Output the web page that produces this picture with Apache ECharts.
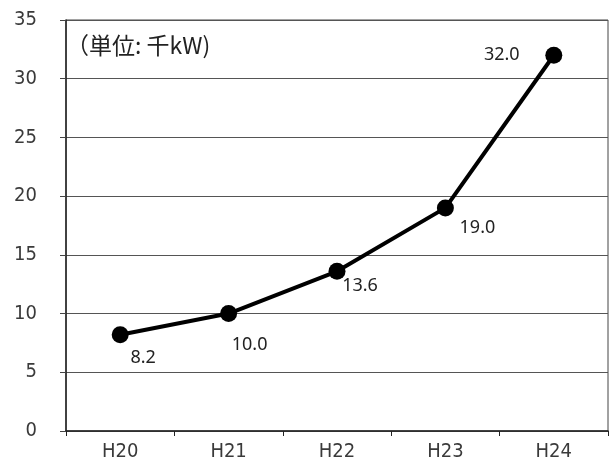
<!DOCTYPE html>
<html>
<head>
<meta charset="utf-8">
<script src="https://cdn.jsdelivr.net/npm/echarts@6/dist/echarts.min.js"></script>
<style>
  html, body { margin: 0; padding: 0; background: #fff; }
  #chart { width: 612px; height: 462px; }
</style>
</head>
<body>
<div id="chart"></div>
<script>
// Fiscal years and installed capacity (thousand kW)
const years = ['H20', 'H21', 'H22', 'H23', 'H24'];
const capacity = [8.2, 10.0, 13.6, 19.0, 32.0];
const yTicks = { min: 0, max: 35, step: 5 };
const unitNote = '（単位: 千kW)';

// Where each value label sits relative to its point (px)
const labelOffsets = [[23, 23], [21, 31], [23, 15], [32, 20], [-52, 0]];

const axisFont = '"DejaVu Sans Condensed", "DejaVu Sans", sans-serif';
const valueFont = '"Noto Sans", "DejaVu Sans", sans-serif';
const noteFont = '"Noto Sans CJK JP", sans-serif';

const chart = echarts.init(document.getElementById('chart'), null, { renderer: 'canvas' });

chart.setOption({
  animation: false,
  backgroundColor: '#ffffff',
  grid: {
    left: 66, right: 4, top: 20, bottom: 31,
    show: true, borderColor: '#444', borderWidth: 1
  },
  xAxis: {
    type: 'category',
    data: years,
    boundaryGap: true,
    axisLine: { show: true, lineStyle: { color: '#222', width: 1.5 } },
    axisTick: { show: true, length: 5, lineStyle: { color: '#222' } },
    axisLabel: { color: '#3a3a3a', fontSize: 20, fontFamily: axisFont, margin: 11 },
    splitLine: { show: false }
  },
  yAxis: {
    type: 'value',
    min: yTicks.min, max: yTicks.max, interval: yTicks.step,
    axisLine: { show: true, lineStyle: { color: '#222', width: 1.5 } },
    axisTick: { show: true, length: 6, lineStyle: { color: '#444' } },
    axisLabel: { color: '#3a3a3a', fontSize: 20, fontFamily: axisFont, margin: 29 },
    splitLine: { show: true, lineStyle: { color: '#555', width: 1 } }
  },
  graphic: [{
    type: 'text',
    left: 66, top: 34,
    style: { text: unitNote, fontSize: 23, fontFamily: noteFont, fill: '#222' }
  }],
  series: [{
    type: 'line',
    data: capacity.map((v, i) => ({
      value: v,
      label: { offset: labelOffsets[i] }
    })),
    symbol: 'circle',
    symbolSize: 17,
    lineStyle: { color: '#000', width: 4 },
    itemStyle: { color: '#000' },
    label: {
      show: true,
      position: 'inside',
      formatter: p => p.value.toFixed(1),
      color: '#222',
      fontSize: 18,
      fontFamily: valueFont
    },
    z: 5
  }]
});
</script>
</body>
</html>
